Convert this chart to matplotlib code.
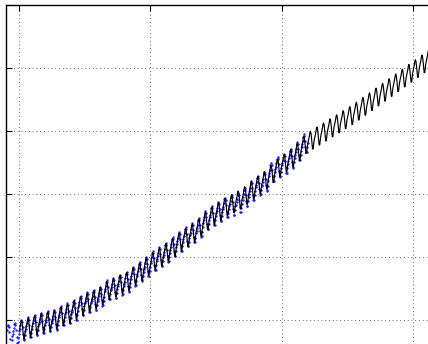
import numpy as np
import matplotlib
matplotlib.use("Agg")
import matplotlib.pyplot as plt

# Observed monthly CO2 (Mauna Loa), given as annual means + seasonal offsets
data_years = list(range(1958, 2004))
data_annual = [315.3, 315.97, 316.91, 317.64, 318.45, 318.99, 319.62, 320.04,
               321.37, 322.18, 323.05, 324.62, 325.68, 326.32, 327.46, 329.68,
               330.19, 331.13, 332.03, 333.84, 335.41, 336.84, 338.76, 340.12,
               341.48, 343.15, 344.87, 346.35, 347.61, 349.31, 351.69, 353.20,
               354.45, 355.70, 356.54, 357.21, 358.96, 360.97, 362.74, 363.88,
               366.84, 368.54, 369.71, 371.32, 373.45, 375.98]
data_season = [0.0, 0.7, 1.6, 2.8, 3.3, 2.5, 0.8, -1.4, -3.3, -3.3, -2.0, -0.8]

# Model fit and 20-year prediction, annual trend + seasonal offsets
model_years = list(range(1960, 2023))
model_annual = [316.9, 317.6, 318.4, 319.0, 319.6, 320.2, 321.2, 322.1,
                323.1, 324.4, 325.5, 326.4, 327.6, 329.3, 330.3, 331.2,
                332.2, 333.8, 335.3, 336.9, 338.6, 340.0, 341.4, 343.0,
                344.7, 346.2, 347.6, 349.3, 351.4, 353.0, 354.4, 355.8,
                356.9, 358.1, 359.5, 361.1, 362.8, 364.3, 366.3, 368.3,
                369.7, 371.3, 373.3, 375.6, 377.1, 378.4, 379.7, 381.0,
                382.3, 383.6, 384.9, 386.3, 387.8, 389.3, 390.8, 392.3,
                393.8, 395.3, 396.8, 398.3, 399.8, 401.3, 402.8]
model_season = [0.1, 0.8, 1.6, 2.6, 3.0, 2.3, 0.7, -1.4, -3.1, -3.2, -1.9, -0.6]

x_ticks = [1960, 1980, 2000, 2020]
y_ticks = [320, 340, 360, 380, 400, 420]


def monthly(years, annual, season):
    yrs = np.asarray(years, float)
    ann = np.asarray(annual, float)
    slope = np.gradient(ann)
    t, v = [], []
    for y, a, s in zip(yrs, ann, slope):
        for m, off in enumerate(season):
            tm = y + (m + 0.5) / 12.0
            t.append(tm)
            v.append(a + off + s * (tm - y - 0.5))
    return np.array(t), np.array(v)


td, vd = monthly(data_years, data_annual, data_season)
mask = td > 1958.15
td, vd = td[mask], vd[mask]
tm, vm = monthly(model_years, model_annual, model_season)

fig = plt.figure(figsize=(4.28, 3.44), dpi=100)
ax = fig.add_axes([5.9 / 428, -7.5 / 344, 439.9 / 428, 346.5 / 344])
ax.plot(td, vd, ls="none", marker="o", ms=1.7, mew=0, color="#1a1aff", zorder=2)
ax.plot(tm, vm, color="k", lw=0.85, zorder=3)

ax.set_xlim(1958, 2025)
ax.set_ylim(310, 420)
ax.set_xticks(x_ticks)
ax.set_yticks(y_ticks)
ax.tick_params(direction="in", top=True, right=True, length=4, width=0.8,
               labelleft=False, labelbottom=False)
ax.grid(True, color="k", ls=(0, (1, 3.5)), lw=0.6, alpha=0.8)
for sp in ax.spines.values():
    sp.set_linewidth(1.0)

fig.savefig("out.png", dpi=100)
